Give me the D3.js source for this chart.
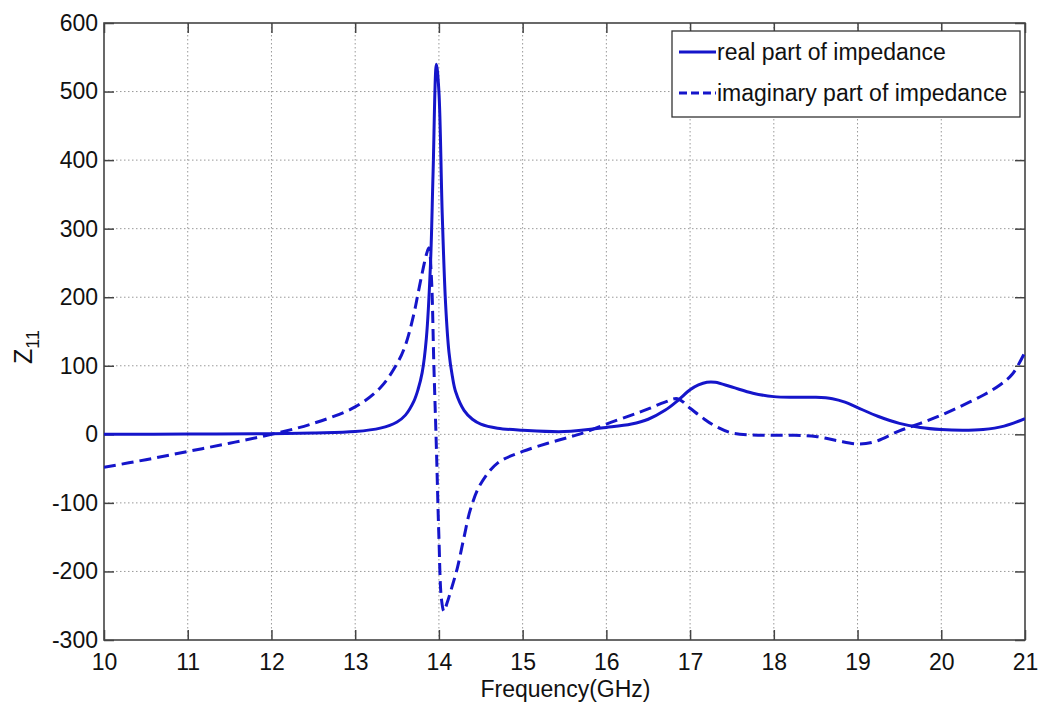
<!DOCTYPE html>
<html>
<head>
<meta charset="utf-8">
<script src="https://cdn.jsdelivr.net/npm/d3@7"></script>
<style>
  html, body { margin: 0; padding: 0; background: #fff; }
  svg { display: block; font-family: "Liberation Sans", Arial, sans-serif; }
</style>
</head>
<body>
<svg id="chart" width="1041" height="717"></svg>
<script>
// ---- data ----
const xTicks = [10, 11, 12, 13, 14, 15, 16, 17, 18, 19, 20, 21];
const yTicks = [-300, -200, -100, 0, 100, 200, 300, 400, 500, 600];

const realFreq = [10, 11, 12, 12.5, 13, 13.3, 13.5, 13.6, 13.7, 13.75, 13.8, 13.85, 13.9, 13.93, 13.97, 14.0, 14.04, 14.08, 14.12, 14.16, 14.2, 14.3, 14.4, 14.5, 14.7, 15, 15.5, 16, 16.3, 16.5, 16.7, 16.85, 17, 17.1, 17.2, 17.3, 17.5, 17.75, 18, 18.25, 18.5, 18.7, 18.85, 19, 19.25, 19.5, 19.75, 20, 20.25, 20.5, 20.75, 21];
const realVals = [0, 0.5, 1, 2, 4, 9, 18, 28, 48, 65, 90, 140, 250, 380, 540, 500, 320, 190, 120, 85, 62, 35, 22, 15, 9, 6, 4, 10, 15, 22, 35, 49, 65, 72, 76, 76, 69, 60, 55, 54, 54, 52, 47, 39, 26, 16, 10, 7, 6, 7, 12, 23];

const imagFreq = [10, 10.5, 11, 11.5, 12, 12.5, 13, 13.3, 13.5, 13.6, 13.7, 13.75, 13.8, 13.85, 13.88, 13.91, 13.94, 13.97, 14.0, 14.03, 14.06, 14.1, 14.15, 14.22, 14.3, 14.38, 14.5, 14.7, 15, 15.3, 15.5, 15.7, 16, 16.3, 16.5, 16.7, 16.85, 17, 17.15, 17.3, 17.5, 17.75, 18, 18.25, 18.5, 18.75, 19, 19.2, 19.5, 19.75, 20, 20.25, 20.5, 20.7, 20.85, 21];
const imagVals = [-48, -37, -25, -13, 0, 16, 40, 68, 103, 130, 175, 205, 235, 262, 272, 230, 100, -20, -150, -240, -258, -245, -225, -195, -150, -108, -72, -42, -25, -13, -6, 1, 15, 28, 37, 47, 52, 38, 24, 12, 2, -1, -1.5, -1.5, -3, -9, -14, -11, 5, 16, 28, 42, 57, 72, 88, 120];

const legendLabels = ["real part of impedance", "imaginary part of impedance"];

// ---- layout ----
const L = 104, T = 23, R = 1025, B = 640;
const svg = d3.select("#chart");
const x = d3.scaleLinear().domain([10, 21]).range([L, R]);
const y = d3.scaleLinear().domain([-300, 600]).range([B, T]);
const lineColor = "#1515ca";

// grid
const grid = svg.append("g");
grid.selectAll("line.vx").data(xTicks.slice(1, -1)).enter().append("line")
  .attr("x1", d => x(d)).attr("x2", d => x(d)).attr("y1", T).attr("y2", B)
  .attr("stroke", "#999").attr("stroke-width", 1).attr("stroke-dasharray", "1.5,2.5");
grid.selectAll("line.hy").data(yTicks.slice(1, -1)).enter().append("line")
  .attr("y1", d => y(d)).attr("y2", d => y(d)).attr("x1", L).attr("x2", R)
  .attr("stroke", "#999").attr("stroke-width", 1).attr("stroke-dasharray", "1.5,2.5");

// axes (inward ticks on all four sides)
const axColor = "#444";
const fmt = d => String(d);
function styleAxis(g) {
  g.select(".domain").remove();
  g.selectAll(".tick line").attr("stroke", axColor).attr("stroke-width", 1.5);
  g.selectAll(".tick text").attr("fill", "#111").attr("font-size", 23)
    .attr("font-family", "Liberation Sans, Arial, sans-serif");
}
svg.append("g").attr("transform", `translate(0,${B})`)
  .call(d3.axisBottom(x).tickValues(xTicks).tickFormat(fmt).tickSizeInner(-10).tickSizeOuter(0).tickPadding(14))
  .call(styleAxis);
svg.append("g").attr("transform", `translate(0,${T})`)
  .call(d3.axisTop(x).tickValues(xTicks).tickFormat("").tickSizeInner(-10).tickSizeOuter(0))
  .call(styleAxis);
svg.append("g").attr("transform", `translate(${L},0)`)
  .call(d3.axisLeft(y).tickValues(yTicks).tickFormat(fmt).tickSizeInner(-10).tickSizeOuter(0).tickPadding(6))
  .call(styleAxis);
svg.append("g").attr("transform", `translate(${R},0)`)
  .call(d3.axisRight(y).tickValues(yTicks).tickFormat("").tickSizeInner(-10).tickSizeOuter(0))
  .call(styleAxis);

// frame
svg.append("rect").attr("x", L).attr("y", T).attr("width", R - L).attr("height", B - T)
  .attr("fill", "none").attr("stroke", axColor).attr("stroke-width", 1.6);

// lines
svg.append("clipPath").attr("id", "clip").append("rect")
  .attr("x", L).attr("y", T).attr("width", R - L).attr("height", B - T);
const line = d3.line().x(d => x(d[0])).y(d => y(d[1])).curve(d3.curveCatmullRom.alpha(0.5));
const realData = realFreq.map((f, i) => [f, realVals[i]]);
const imagData = imagFreq.map((f, i) => [f, imagVals[i]]);
const plot = svg.append("g").attr("clip-path", "url(#clip)");
plot.append("path").datum(imagData).attr("d", line).attr("fill", "none")
  .attr("stroke", lineColor).attr("stroke-width", 3).attr("stroke-dasharray", "12,6");
plot.append("path").datum(realData).attr("d", line).attr("fill", "none")
  .attr("stroke", lineColor).attr("stroke-width", 3);

// axis labels
svg.append("text").attr("x", (L + R) / 2 + 1).attr("y", 697).attr("text-anchor", "middle")
  .attr("font-size", 23).attr("fill", "#111").text("Frequency(GHz)");
const yl = svg.append("text").attr("transform", "translate(32,347) rotate(-90)")
  .attr("text-anchor", "middle").attr("font-size", 25).attr("fill", "#111");
yl.append("tspan").text("Z");
yl.append("tspan").attr("font-size", 18).attr("dy", 7).text("11");

// legend
const lg = svg.append("g");
lg.append("rect").attr("x", 672).attr("y", 31).attr("width", 348).attr("height", 86)
  .attr("fill", "#fff").attr("stroke", "#333").attr("stroke-width", 1.3);
const rows = [52, 93];
legendLabels.forEach((lab, i) => {
  lg.append("line").attr("x1", 679).attr("x2", 716).attr("y1", rows[i]).attr("y2", rows[i])
    .attr("stroke", lineColor).attr("stroke-width", 3)
    .attr("stroke-dasharray", i === 1 ? "8,4" : null);
  lg.append("text").attr("x", 717).attr("y", rows[i] + 8).attr("font-size", 23).attr("fill", "#111").text(lab);
});
</script>
</body>
</html>
